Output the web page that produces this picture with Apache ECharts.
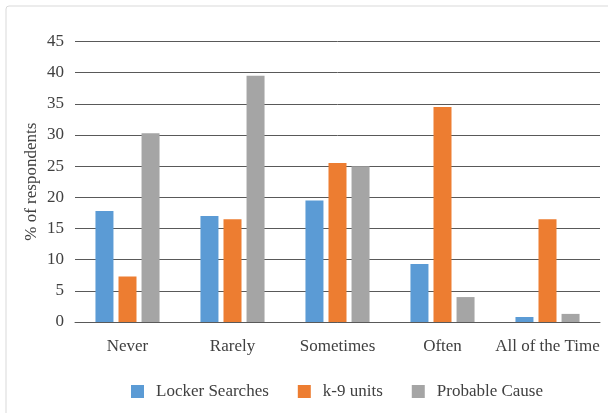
<!DOCTYPE html>
<html>
<head>
<meta charset="utf-8">
<script src="https://cdn.jsdelivr.net/npm/echarts@6/dist/echarts.min.js"></script>
<style>
  html, body { margin: 0; padding: 0; background: #fff; }
  #chart { width: 608px; height: 413px; }
</style>
</head>
<body>
<div id="chart"></div>
<script>
const categories = ['Never', 'Rarely', 'Sometimes', 'Often', 'All of the Time']
const lockerSearches = [17.8, 17.0, 19.5, 9.3, 0.8]
const k9Units = [7.3, 16.5, 25.5, 34.5, 16.5]
const probableCause = [30.3, 39.5, 25.0, 4.0, 1.3]
const yTicks = [0, 5, 10, 15, 20, 25, 30, 35, 40, 45]

const font = '"Liberation Serif", "DejaVu Serif", serif'
const colorList = ['#5b9bd5', '#ed7d31', '#a5a5a5']
const textColor = '#404040'

const chart = echarts.init(document.getElementById('chart'))

const barSeries = (name, data) => ({
  name: name,
  type: 'bar',
  data: data,
  barWidth: 18,
  barGap: '28%',
  barCategoryGap: '39%'
})

chart.setOption({
  animation: false,
  color: colorList,
  graphic: [{
    type: 'rect',
    shape: { x: 6, y: 6, width: 620, height: 420, r: 3 },
    style: { fill: 'none', stroke: '#d9d9d9', lineWidth: 1 },
    silent: true
  }],
  grid: { left: 75, right: 8, top: 41.5, bottom: 91 },
  legend: {
    top: 378,
    left: 126,
    itemWidth: 13,
    itemHeight: 13,
    itemGap: 29,
    icon: 'rect',
    textStyle: { fontFamily: font, fontSize: 17, color: textColor, padding: [0, 0, 0, 7] }
  },
  xAxis: {
    type: 'category',
    data: categories,
    axisTick: { show: false },
    axisLine: { lineStyle: { color: '#595959', width: 1 } },
    axisLabel: { fontFamily: font, fontSize: 17, color: textColor, margin: 16, interval: 0 }
  },
  yAxis: {
    type: 'value',
    min: yTicks[0],
    max: yTicks[yTicks.length - 1],
    interval: 5,
    name: '% of respondents',
    nameLocation: 'middle',
    nameGap: 35,
    nameMoveOverlap: false,
    nameTextStyle: { fontFamily: font, fontSize: 17, color: textColor },
    axisLine: { show: false },
    axisTick: { show: false },
    axisLabel: { fontFamily: font, fontSize: 17, color: textColor, margin: 11 },
    splitLine: { lineStyle: { color: '#595959', width: 1 } }
  },
  series: [
    barSeries('Locker Searches', lockerSearches),
    barSeries('k-9 units', k9Units),
    barSeries('Probable Cause', probableCause)
  ]
})
</script>
</body>
</html>
